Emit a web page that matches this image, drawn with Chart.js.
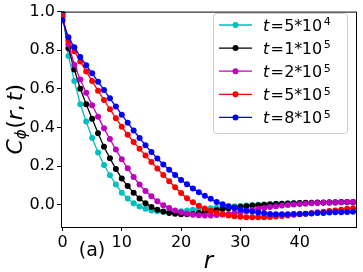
<!DOCTYPE html>
<html>
<head>
<meta charset="utf-8">
<script src="https://cdn.jsdelivr.net/npm/chart.js@4.4.0/dist/chart.umd.min.js"></script>
<style>
  html, body { margin: 0; padding: 0; background: #fff; }
  #wrap { width: 363px; height: 272px; }
</style>
</head>
<body>
<div id="wrap"><canvas id="chart" width="363" height="272"></canvas></div>
<script>
// distance r (same grid for every curve)
const radii = [0, 1, 2, 3, 4, 5, 6, 7, 8, 9, 10, 11, 12, 13, 14, 15, 16, 17, 18, 19,
  20, 21, 22, 23, 24, 25, 26, 27, 28, 29, 30, 31, 32, 33, 34, 35, 36, 37, 38, 39,
  40, 41, 42, 43, 44, 45, 46, 47, 48, 49];

// C_phi(r,t), one list per time
const c_t5e4 = [0.995, 0.770, 0.640, 0.520, 0.430, 0.345, 0.270, 0.205, 0.152, 0.104,
  0.062, 0.032, 0.007, -0.010, -0.022, -0.030, -0.035, -0.038, -0.039, -0.038,
  -0.035, -0.031, -0.027, -0.024, -0.021, -0.019, -0.016, -0.013, -0.011, -0.009,
  -0.007, -0.005, -0.003, -0.001, 0.001, 0.003, 0.004, 0.005, 0.006, 0.007,
  0.008, 0.008, 0.009, 0.009, 0.010, 0.010, 0.010, 0.011, 0.011, 0.011];
const c_t1e5 = [0.990, 0.810, 0.700, 0.600, 0.520, 0.445, 0.370, 0.300, 0.240, 0.185,
  0.135, 0.096, 0.062, 0.032, 0.007, -0.012, -0.026, -0.036, -0.043, -0.047,
  -0.050, -0.050, -0.048, -0.044, -0.039, -0.033, -0.028, -0.023, -0.019, -0.015,
  -0.011, -0.008, -0.005, -0.003, -0.001, 0.001, 0.003, 0.004, 0.006, 0.007,
  0.008, 0.009, 0.010, 0.011, 0.011, 0.012, 0.012, 0.013, 0.013, 0.013];
const c_t2e5 = [0.980, 0.830, 0.725, 0.648, 0.580, 0.515, 0.455, 0.395, 0.340, 0.285,
  0.235, 0.188, 0.143, 0.104, 0.070, 0.043, 0.018, -0.003, -0.018, -0.030,
  -0.040, -0.047, -0.052, -0.055, -0.056, -0.056, -0.054, -0.051, -0.048, -0.044,
  -0.039, -0.034, -0.028, -0.022, -0.017, -0.013, -0.009, -0.005, -0.002, 0.001,
  0.003, 0.005, 0.007, 0.008, 0.009, 0.010, 0.011, 0.012, 0.013, 0.014];
const c_t5e5 = [0.972, 0.848, 0.795, 0.742, 0.690, 0.640, 0.590, 0.542, 0.494, 0.448,
  0.404, 0.362, 0.324, 0.289, 0.255, 0.221, 0.187, 0.153, 0.121, 0.090,
  0.060, 0.033, 0.012, -0.006, -0.020, -0.032, -0.042, -0.050, -0.056, -0.060,
  -0.063, -0.065, -0.066, -0.066, -0.065, -0.064, -0.062, -0.059, -0.056, -0.053,
  -0.050, -0.047, -0.044, -0.040, -0.037, -0.033, -0.030, -0.026, -0.022, -0.019];
const c_t8e5 = [0.955, 0.867, 0.815, 0.765, 0.722, 0.680, 0.637, 0.594, 0.551, 0.508,
  0.466, 0.424, 0.384, 0.345, 0.307, 0.272, 0.239, 0.208, 0.180, 0.154,
  0.128, 0.105, 0.084, 0.064, 0.046, 0.030, 0.013, 0.002, -0.008, -0.017,
  -0.025, -0.031, -0.036, -0.041, -0.045, -0.048, -0.050, -0.050, -0.050, -0.049,
  -0.048, -0.047, -0.046, -0.044, -0.043, -0.041, -0.040, -0.039, -0.038, -0.037];

const seriesLabels = ['t=5*10^4', 't=1*10^5', 't=2*10^5', 't=5*10^5', 't=8*10^5'];
const seriesColors = ['#00bfbf', '#000000', '#bf00bf', '#ff0000', '#0000ff'];
const seriesValues = [c_t5e4, c_t1e5, c_t2e5, c_t5e5, c_t8e5];

const xTicks = [0, 10, 20, 30, 40];
const yTicks = [0.0, 0.2, 0.4, 0.6, 0.8, 1.0];

const FONT = '"DejaVu Sans", sans-serif';

// spines on top/right, axis labels, panel tag and the legend
const decorations = {
  id: 'decorations',
  afterDraw(chart) {
    const ctx = chart.ctx;
    const a = chart.chartArea;
    ctx.save();
    ctx.strokeStyle = '#000';
    ctx.lineWidth = 1;
    ctx.beginPath();
    ctx.moveTo(a.left, a.top + 0.5);
    ctx.lineTo(a.right + 0.5, a.top + 0.5);
    ctx.lineTo(a.right + 0.5, a.bottom);
    ctx.stroke();

    ctx.fillStyle = '#000';
    ctx.textBaseline = 'alphabetic';

    // x label
    ctx.font = 'italic 23px ' + FONT;
    ctx.textAlign = 'center';
    ctx.fillText('r', (a.left + a.right) / 2, 268);

    // panel tag
    ctx.font = '19px ' + FONT;
    ctx.fillText('(a)', 92, 255.5);

    // y label C_phi(r, t), rotated
    ctx.save();
    ctx.translate(21.5, (a.top + a.bottom) / 2);
    ctx.rotate(-Math.PI / 2);
    const parts = [
      { t: 'C', f: 'italic 22px ' + FONT, dy: 0, gap: 0 },
      { t: '\u03d5', f: 'italic 15px ' + FONT, dy: 4, gap: 0.5 },
      { t: '(', f: '22px ' + FONT, dy: 0, gap: 0 },
      { t: 'r', f: 'italic 22px ' + FONT, dy: 0, gap: 0 },
      { t: ',', f: '22px ' + FONT, dy: 0, gap: 3 },
      { t: 't', f: 'italic 22px ' + FONT, dy: 0, gap: 0 },
      { t: ')', f: '22px ' + FONT, dy: 0, gap: 0 }
    ];
    let total = 0;
    parts.forEach(p => { ctx.font = p.f; p.w = ctx.measureText(p.t).width + p.gap; total += p.w; });
    let x = -total / 2;
    ctx.textAlign = 'left';
    parts.forEach(p => { ctx.font = p.f; ctx.fillText(p.t, x, p.dy); x += p.w; });
    ctx.restore();

    // legend
    const bx = 213.5, by = 13.5, bw = 134, bh = 120;
    ctx.beginPath();
    ctx.roundRect(bx, by, bw, bh, 3);
    ctx.fillStyle = 'rgba(255,255,255,0.8)';
    ctx.fill();
    ctx.strokeStyle = '#cccccc';
    ctx.stroke();
    chart.data.datasets.forEach((ds, i) => {
      const cy = 25 + i * 23.1;
      ctx.strokeStyle = ds.borderColor;
      ctx.lineWidth = 1.3;
      ctx.beginPath();
      ctx.moveTo(219, cy);
      ctx.lineTo(252, cy);
      ctx.stroke();
      ctx.fillStyle = ds.borderColor;
      ctx.beginPath();
      ctx.arc(235.5, cy, 3, 0, Math.PI * 2);
      ctx.fill();

      const m = ds.label.match(/^t=(\d)\*10\^(\d)$/);
      const base = cy + 5.8;
      ctx.fillStyle = '#000';
      ctx.textAlign = 'left';
      ctx.font = 'italic 16px ' + FONT;
      ctx.fillText('t', 263, base);
      ctx.font = '16px ' + FONT;
      ctx.fillText('=', 270.5, base);
      ctx.fillText(m[1], 284.3, base);
      ctx.fillText('*', 294.3, base);
      ctx.fillText('10', 301.8, base);
      ctx.font = '11px ' + FONT;
      ctx.fillText(m[2], 323.8, base - 5.5);
    });
    ctx.restore();
  }
};

const datasets = seriesValues.map((vals, i) => ({
  label: seriesLabels[i],
  data: radii.map((r, k) => ({ x: r, y: vals[k] })),
  borderColor: seriesColors[i],
  backgroundColor: seriesColors[i],
  pointBackgroundColor: seriesColors[i],
  pointBorderWidth: 0,
  pointRadius: 3,
  borderWidth: 1.3,
  tension: 0,
  order: seriesValues.length - i
}));

new Chart(document.getElementById('chart'), {
  type: 'line',
  data: { datasets },
  options: {
    responsive: false,
    animation: false,
    devicePixelRatio: 1,
    layout: { padding: { top: 6, right: 7, left: 0, bottom: 0 } },
    plugins: { legend: { display: false }, tooltip: { enabled: false } },
    scales: {
      x: {
        type: 'linear',
        min: -0.25,
        max: 49.5,
        afterFit(scale) { scale.height = 45; },
        afterBuildTicks(scale) { scale.ticks = xTicks.map(v => ({ value: v })); },
        border: { display: true, color: '#000', width: 1 },
        grid: { drawOnChartArea: false, drawTicks: true, tickLength: 4, color: '#000' },
        ticks: { color: '#000', padding: 2, maxRotation: 0, font: { family: 'DejaVu Sans', size: 16 } }
      },
      y: {
        min: -0.116,
        max: 1.0,
        afterFit(scale) { scale.width = 61; },
        afterBuildTicks(scale) { scale.ticks = yTicks.map(v => ({ value: v })); },
        border: { display: true, color: '#000', width: 1 },
        grid: { drawOnChartArea: false, drawTicks: true, tickLength: 4, color: '#000' },
        ticks: {
          color: '#000', padding: 2,
          font: { family: 'DejaVu Sans', size: 16 },
          callback: v => v.toFixed(1)
        }
      }
    }
  },
  plugins: [decorations]
});
</script>
</body>
</html>
